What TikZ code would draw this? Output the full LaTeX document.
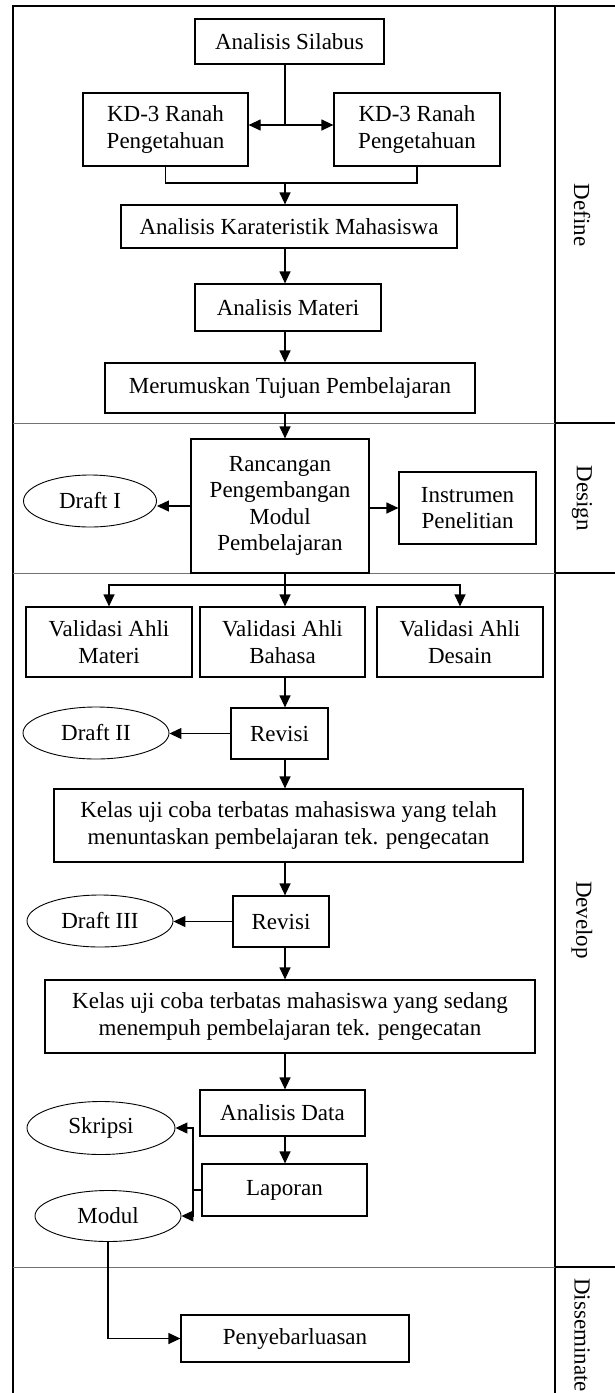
\documentclass[tikz,border=0pt]{standalone}
\usepackage{fontspec}
\setmainfont{Liberation Serif}
\usetikzlibrary{arrows.meta,shapes.geometric}

\begin{document}
\begin{tikzpicture}[x=1pt,y=-1pt,font=\fontsize{23}{26.5}\selectfont,
	box/.style={draw,line width=1.2pt,align=center,inner sep=0pt},
	ell/.style={draw,ellipse,line width=0.9pt,inner sep=0pt},
	ln/.style={line width=1.2pt},
	arr/.style={ln,-{Triangle[length=12pt,width=11pt]}},
	sep/.style={draw=black!55,line width=0.9pt},
	phase/.style={rotate=-90,inner sep=0pt}] %px grid
	\useasboundingbox (0,0) rectangle (615,1393);
	% frame and phases
	\draw[ln] (13,1393) -- (13,6) -- (615,6);
	\draw[ln] (555,6) -- (555,1393);
	\foreach \y in {423,573,1267} {
		\draw[sep] (13,\y) -- (555,\y);
		\draw[ln] (555,\y) -- (615,\y);
	}
	\node[phase] (define) at (582,215) {Define};
	\node[phase] (design) at (582,498) {Design};
	\node[phase] (develop) at (582,920) {Develop};
	\node[phase,anchor=west] (dissem) at (582,1278) {Disseminate};
	
	\coordinate (ax) at (285,0);
	\coordinate (j1) at (285,125);
	\coordinate (j2) at (285,183);
	\coordinate (fork) at (285,585);
	\coordinate (jn) at (193,1190);
	
	\node[box,minimum width=189,minimum height=45] (silabus) at (289.5,41.5) {Analisis Silabus};
	\node[box,minimum width=165,minimum height=73] (kd1) at (165.5,129.5) {KD-3 Ranah\\Pengetahuan};
	\node[box,minimum width=166,minimum height=73] (kd2) at (417,129.5) {KD-3 Ranah\\Pengetahuan};
	\node[box,minimum width=336,minimum height=43] (karakter) at (289,226.5) {Analisis Karateristik Mahasiswa};
	\node[box,minimum width=186,minimum height=47] (materi) at (288,307.5) {Analisis Materi};
	\node[box,minimum width=370,minimum height=50] (tujuan) at (290,388) {Merumuskan Tujuan Pembelajaran};
	\node[box,minimum width=178,minimum height=134] (rancang) at (280,506) {Rancangan\\Pengembangan\\Modul\\Pembelajaran};
	\node[ell,minimum width=133,minimum height=52] (draft1) at (90,501) {Draft I};
	\node[box,minimum width=137,minimum height=72] (instrumen) at (467.5,508) {Instrumen\\Penelitian};
	\node[box,minimum width=166,minimum height=70] (vmateri) at (109,642) {Validasi Ahli\\Materi};
	\node[box,minimum width=165,minimum height=70] (vbahasa) at (282.5,642) {Validasi Ahli\\Bahasa};
	\node[box,minimum width=166,minimum height=70] (vdesain) at (460,642) {Validasi Ahli\\Desain};
	\node[box,minimum width=97,minimum height=51] (revisi1) at (279.5,733.5) {Revisi};
	\node[ell,minimum width=146,minimum height=52] (draft2) at (96,733) {Draft II};
	\node[box,minimum width=469,minimum height=73] (kelas1) at (288.5,825.5) {Kelas uji coba terbatas mahasiswa yang telah\\menuntaskan pembelajaran tek. pengecatan};
	\node[box,minimum width=96,minimum height=51] (revisi2) at (281,921.5) {Revisi};
	\node[ell,minimum width=146,minimum height=52] (draft3) at (100,921) {Draft III};
	\node[box,minimum width=490,minimum height=73] (kelas2) at (290,1016.5) {Kelas uji coba terbatas mahasiswa yang sedang\\menempuh pembelajaran tek. pengecatan};
	\node[box,minimum width=165,minimum height=46] (data) at (282.5,1113) {Analisis Data};
	\node[ell,minimum width=148,minimum height=53] (skripsi) at (101,1128) {Skripsi};
	\node[box,minimum width=165,minimum height=52] (laporan) at (284.5,1190) {Laporan};
	\node[ell,minimum width=146,minimum height=51] (modul) at (108,1216) {Modul};
	\node[box,minimum width=228,minimum height=47] (sebar) at (295,1338.5) {Penyebarluasan};
	
	% define
	\draw[ln] (silabus.south -| j1) -- (j1);
	\draw[ln,{Triangle[length=12pt,width=11pt]}-{Triangle[length=12pt,width=11pt]}] (kd1.east |- j1) -- (kd2.west |- j1);
	\draw[ln] (kd1.south) |- (j2) -| (kd2.south);
	\draw[arr] (j2) -- (karakter.north -| j2);
	\draw[arr] (karakter.south -| ax) -- (materi.north -| ax);
	\draw[arr] (materi.south -| ax) -- (tujuan.north -| ax);
	% design
	\draw[arr] (tujuan.south -| ax) -- (rancang.north -| ax);
	\draw[arr] (rancang.west) -- (rancang.west -| draft1.east);
	\draw[arr] (rancang.east |- instrumen) -- (instrumen.west);
	% develop
	\draw[ln] (rancang.south -| ax) -- (fork);
	\draw[arr] (fork) -| (vmateri.north);
	\draw[arr] (fork) -| (vdesain.north);
	\draw[arr] (fork) -- (vbahasa.north -| fork);
	\draw[arr] (vbahasa.south -| ax) -- (revisi1.north -| ax);
	\draw[arr] (revisi1.west) -- (revisi1.west -| draft2.east);
	\draw[arr] (revisi1.south -| ax) -- (kelas1.north -| ax);
	\draw[arr] (kelas1.south -| ax) -- (revisi2.north -| ax);
	\draw[arr] (revisi2.west) -- (revisi2.west -| draft3.east);
	\draw[arr] (revisi2.south -| ax) -- (kelas2.north -| ax);
	\draw[arr] (kelas2.south -| ax) -- (data.north -| ax);
	\draw[arr] (data.south -| ax) -- (laporan.north -| ax);
	\draw[ln] (laporan.west) -- (jn);
	\draw[arr] (jn) |- (skripsi.east);
	\draw[arr] (jn) |- (modul.east);
	% disseminate
	\draw[arr] (modul.south) |- (sebar.west);
	
\end{tikzpicture}
\end{document}
